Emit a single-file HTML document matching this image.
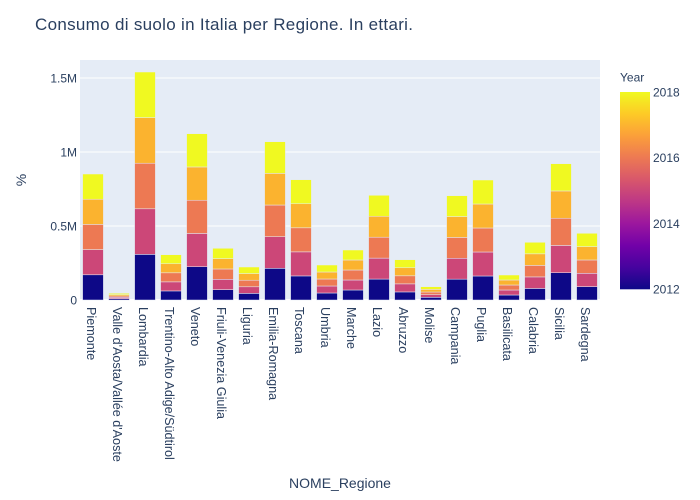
<!DOCTYPE html>
<html><head><meta charset="utf-8"><style>
html,body{margin:0;padding:0;background:#fff;}
svg{display:block;font-family:"Liberation Sans",Arial,sans-serif;}
</style></head><body>
<svg width="700" height="500" viewBox="0 0 700 500" xmlns="http://www.w3.org/2000/svg">
<defs>
<linearGradient id="plasma" x1="0" y1="1" x2="0" y2="0">
<stop offset="0" stop-color="#0d0887"/>
<stop offset="0.111" stop-color="#46039f"/>
<stop offset="0.222" stop-color="#7201a8"/>
<stop offset="0.333" stop-color="#9c179e"/>
<stop offset="0.444" stop-color="#bd3786"/>
<stop offset="0.556" stop-color="#d8576b"/>
<stop offset="0.667" stop-color="#ed7953"/>
<stop offset="0.778" stop-color="#fb9f3a"/>
<stop offset="0.889" stop-color="#fdca26"/>
<stop offset="1" stop-color="#f0f921"/>
</linearGradient>
</defs>
<rect x="0" y="0" width="700" height="500" fill="#fff"/>
<rect x="80" y="60" width="520" height="240" fill="#E5ECF6"/>
<g stroke="#fff" stroke-width="1">
<line x1="80" x2="600" y1="78" y2="78"/>
<line x1="80" x2="600" y1="152" y2="152"/>
<line x1="80" x2="600" y1="226" y2="226"/>
</g>
<line x1="80" x2="600" y1="300" y2="300" stroke="#fff" stroke-width="2"/>

<g stroke="#E5ECF6" stroke-width="0.5">
<g transform="translate(82.6,0)"><rect width="20.8" y="274.8" height="25.2" fill="#0d0887"/><rect width="20.8" y="249.6" height="25.2" fill="#cc4778"/><rect width="20.8" y="224.4" height="25.2" fill="#ed7953"/><rect width="20.8" y="199.2" height="25.2" fill="#fbb32f"/><rect width="20.8" y="174" height="25.2" fill="#f0f921"/></g>
<g transform="translate(108.6,0)"><rect width="20.8" y="298.66" height="1.34" fill="#0d0887"/><rect width="20.8" y="297.32" height="1.34" fill="#cc4778"/><rect width="20.8" y="295.98" height="1.34" fill="#ed7953"/><rect width="20.8" y="294.64" height="1.34" fill="#fbb32f"/><rect width="20.8" y="293.3" height="1.34" fill="#f0f921"/></g>
<g transform="translate(134.6,0)"><rect width="20.8" y="254.4" height="45.6" fill="#0d0887"/><rect width="20.8" y="208.8" height="45.6" fill="#cc4778"/><rect width="20.8" y="163.2" height="45.6" fill="#ed7953"/><rect width="20.8" y="117.6" height="45.6" fill="#fbb32f"/><rect width="20.8" y="72" height="45.6" fill="#f0f921"/></g>
<g transform="translate(160.6,0)"><rect width="20.8" y="290.94" height="9.06" fill="#0d0887"/><rect width="20.8" y="281.88" height="9.06" fill="#cc4778"/><rect width="20.8" y="272.82" height="9.06" fill="#ed7953"/><rect width="20.8" y="263.76" height="9.06" fill="#fbb32f"/><rect width="20.8" y="254.7" height="9.06" fill="#f0f921"/></g>
<g transform="translate(186.6,0)"><rect width="20.8" y="266.74" height="33.26" fill="#0d0887"/><rect width="20.8" y="233.48" height="33.26" fill="#cc4778"/><rect width="20.8" y="200.22" height="33.26" fill="#ed7953"/><rect width="20.8" y="166.96" height="33.26" fill="#fbb32f"/><rect width="20.8" y="133.7" height="33.26" fill="#f0f921"/></g>
<g transform="translate(212.6,0)"><rect width="20.8" y="289.66" height="10.34" fill="#0d0887"/><rect width="20.8" y="279.32" height="10.34" fill="#cc4778"/><rect width="20.8" y="268.98" height="10.34" fill="#ed7953"/><rect width="20.8" y="258.64" height="10.34" fill="#fbb32f"/><rect width="20.8" y="248.3" height="10.34" fill="#f0f921"/></g>
<g transform="translate(238.6,0)"><rect width="20.8" y="293.4" height="6.6" fill="#0d0887"/><rect width="20.8" y="286.8" height="6.6" fill="#cc4778"/><rect width="20.8" y="280.2" height="6.6" fill="#ed7953"/><rect width="20.8" y="273.6" height="6.6" fill="#fbb32f"/><rect width="20.8" y="267" height="6.6" fill="#f0f921"/></g>
<g transform="translate(264.6,0)"><rect width="20.8" y="268.34" height="31.66" fill="#0d0887"/><rect width="20.8" y="236.68" height="31.66" fill="#cc4778"/><rect width="20.8" y="205.02" height="31.66" fill="#ed7953"/><rect width="20.8" y="173.36" height="31.66" fill="#fbb32f"/><rect width="20.8" y="141.7" height="31.66" fill="#f0f921"/></g>
<g transform="translate(290.6,0)"><rect width="20.8" y="275.94" height="24.06" fill="#0d0887"/><rect width="20.8" y="251.88" height="24.06" fill="#cc4778"/><rect width="20.8" y="227.82" height="24.06" fill="#ed7953"/><rect width="20.8" y="203.76" height="24.06" fill="#fbb32f"/><rect width="20.8" y="179.7" height="24.06" fill="#f0f921"/></g>
<g transform="translate(316.6,0)"><rect width="20.8" y="293" height="7" fill="#0d0887"/><rect width="20.8" y="286" height="7" fill="#cc4778"/><rect width="20.8" y="279" height="7" fill="#ed7953"/><rect width="20.8" y="272" height="7" fill="#fbb32f"/><rect width="20.8" y="265" height="7" fill="#f0f921"/></g>
<g transform="translate(342.6,0)"><rect width="20.8" y="290" height="10" fill="#0d0887"/><rect width="20.8" y="280" height="10" fill="#cc4778"/><rect width="20.8" y="270" height="10" fill="#ed7953"/><rect width="20.8" y="260" height="10" fill="#fbb32f"/><rect width="20.8" y="250" height="10" fill="#f0f921"/></g>
<g transform="translate(368.6,0)"><rect width="20.8" y="279.06" height="20.94" fill="#0d0887"/><rect width="20.8" y="258.12" height="20.94" fill="#cc4778"/><rect width="20.8" y="237.18" height="20.94" fill="#ed7953"/><rect width="20.8" y="216.24" height="20.94" fill="#fbb32f"/><rect width="20.8" y="195.3" height="20.94" fill="#f0f921"/></g>
<g transform="translate(394.6,0)"><rect width="20.8" y="291.94" height="8.06" fill="#0d0887"/><rect width="20.8" y="283.88" height="8.06" fill="#cc4778"/><rect width="20.8" y="275.82" height="8.06" fill="#ed7953"/><rect width="20.8" y="267.76" height="8.06" fill="#fbb32f"/><rect width="20.8" y="259.7" height="8.06" fill="#f0f921"/></g>
<g transform="translate(420.6,0)"><rect width="20.8" y="297.34" height="2.66" fill="#0d0887"/><rect width="20.8" y="294.68" height="2.66" fill="#cc4778"/><rect width="20.8" y="292.02" height="2.66" fill="#ed7953"/><rect width="20.8" y="289.36" height="2.66" fill="#fbb32f"/><rect width="20.8" y="286.7" height="2.66" fill="#f0f921"/></g>
<g transform="translate(446.6,0)"><rect width="20.8" y="279.14" height="20.86" fill="#0d0887"/><rect width="20.8" y="258.28" height="20.86" fill="#cc4778"/><rect width="20.8" y="237.42" height="20.86" fill="#ed7953"/><rect width="20.8" y="216.56" height="20.86" fill="#fbb32f"/><rect width="20.8" y="195.7" height="20.86" fill="#f0f921"/></g>
<g transform="translate(472.6,0)"><rect width="20.8" y="276" height="24" fill="#0d0887"/><rect width="20.8" y="252" height="24" fill="#cc4778"/><rect width="20.8" y="228" height="24" fill="#ed7953"/><rect width="20.8" y="204" height="24" fill="#fbb32f"/><rect width="20.8" y="180" height="24" fill="#f0f921"/></g>
<g transform="translate(498.6,0)"><rect width="20.8" y="295" height="5" fill="#0d0887"/><rect width="20.8" y="290" height="5" fill="#cc4778"/><rect width="20.8" y="285" height="5" fill="#ed7953"/><rect width="20.8" y="280" height="5" fill="#fbb32f"/><rect width="20.8" y="275" height="5" fill="#f0f921"/></g>
<g transform="translate(524.6,0)"><rect width="20.8" y="288.46" height="11.54" fill="#0d0887"/><rect width="20.8" y="276.92" height="11.54" fill="#cc4778"/><rect width="20.8" y="265.38" height="11.54" fill="#ed7953"/><rect width="20.8" y="253.84" height="11.54" fill="#fbb32f"/><rect width="20.8" y="242.3" height="11.54" fill="#f0f921"/></g>
<g transform="translate(550.6,0)"><rect width="20.8" y="272.74" height="27.26" fill="#0d0887"/><rect width="20.8" y="245.48" height="27.26" fill="#cc4778"/><rect width="20.8" y="218.22" height="27.26" fill="#ed7953"/><rect width="20.8" y="190.96" height="27.26" fill="#fbb32f"/><rect width="20.8" y="163.7" height="27.26" fill="#f0f921"/></g>
<g transform="translate(576.6,0)"><rect width="20.8" y="286.66" height="13.34" fill="#0d0887"/><rect width="20.8" y="273.32" height="13.34" fill="#cc4778"/><rect width="20.8" y="259.98" height="13.34" fill="#ed7953"/><rect width="20.8" y="246.64" height="13.34" fill="#fbb32f"/><rect width="20.8" y="233.3" height="13.34" fill="#f0f921"/></g>
</g>

<text x="35" y="30" font-size="17" fill="#2a3f5f" textLength="378" lengthAdjust="spacing">Consumo di suolo in Italia per Regione. In ettari.</text>

<g font-size="12" fill="#2a3f5f" text-anchor="end">
<text x="77" y="82.5">1.5M</text>
<text x="77" y="156.5">1M</text>
<text x="77" y="230.5">0.5M</text>
<text x="77" y="304.5">0</text>
</g>
<text x="26" y="180" font-size="14" fill="#2a3f5f" text-anchor="middle" transform="rotate(-90 26 180)">%</text>

<g font-size="12.6" fill="#2a3f5f">
<text x="87" y="307" transform="rotate(90 87 307)">Piemonte</text>
<text x="113" y="307" transform="rotate(90 113 307)">Valle d'Aosta/Vallée d'Aoste</text>
<text x="139" y="307" transform="rotate(90 139 307)">Lombardia</text>
<text x="165" y="307" transform="rotate(90 165 307)">Trentino-Alto Adige/Südtirol</text>
<text x="191" y="307" transform="rotate(90 191 307)">Veneto</text>
<text x="217" y="307" transform="rotate(90 217 307)">Friuli-Venezia Giulia</text>
<text x="243" y="307" transform="rotate(90 243 307)">Liguria</text>
<text x="269" y="307" transform="rotate(90 269 307)">Emilia-Romagna</text>
<text x="295" y="307" transform="rotate(90 295 307)">Toscana</text>
<text x="321" y="307" transform="rotate(90 321 307)">Umbria</text>
<text x="347" y="307" transform="rotate(90 347 307)">Marche</text>
<text x="373" y="307" transform="rotate(90 373 307)">Lazio</text>
<text x="399" y="307" transform="rotate(90 399 307)">Abruzzo</text>
<text x="425" y="307" transform="rotate(90 425 307)">Molise</text>
<text x="451" y="307" transform="rotate(90 451 307)">Campania</text>
<text x="477" y="307" transform="rotate(90 477 307)">Puglia</text>
<text x="503" y="307" transform="rotate(90 503 307)">Basilicata</text>
<text x="529" y="307" transform="rotate(90 529 307)">Calabria</text>
<text x="555" y="307" transform="rotate(90 555 307)">Sicilia</text>
<text x="581" y="307" transform="rotate(90 581 307)">Sardegna</text>
</g>
<text x="340" y="488" font-size="14" fill="#2a3f5f" text-anchor="middle">NOME_Regione</text>

<text x="620" y="81.5" font-size="12" fill="#2a3f5f">Year</text>
<rect x="620" y="92" width="30" height="197.3" fill="url(#plasma)"/>
<g font-size="12" fill="#2a3f5f">
<text x="653" y="96.3">2018</text>
<text x="653" y="162">2016</text>
<text x="653" y="227.8">2014</text>
<text x="653" y="293.5">2012</text>
</g>
</svg>
</body></html>
